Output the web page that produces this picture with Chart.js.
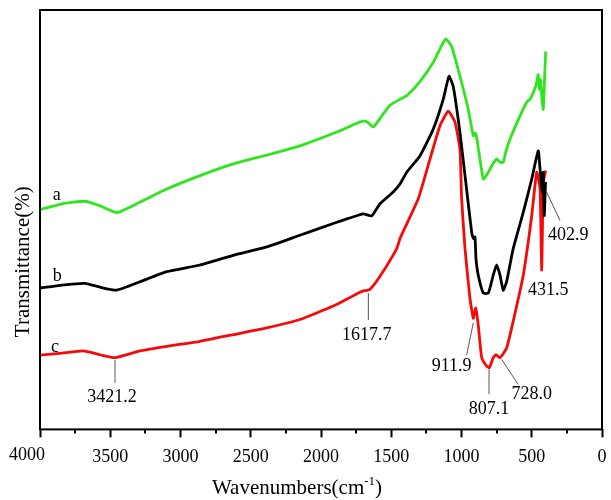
<!DOCTYPE html>
<html>
<head>
<meta charset="utf-8">
<script src="https://cdn.jsdelivr.net/npm/chart.js@4.4.0/dist/chart.umd.min.js"></script>
<style>
  html, body { margin: 0; padding: 0; background: #fff; }
</style>
</head>
<body>
<canvas id="ftir" width="611" height="500"></canvas>
<script>
// Spectrum a (green)
const aWave = [4000, 3843, 3680, 3573, 3454, 3288, 3098, 2861, 2624, 2363, 2150, 1865, 1746, 1699, 1666, 1628,
  1568, 1509, 1438, 1388, 1296, 1203, 1146, 1113, 1070, 1011, 952, 916, 901, 890, 869, 845, 819, 797, 769, 750,
  726, 703, 683, 655, 584, 536, 513, 489, 470, 454, 445, 438, 427, 418, 409, 401];
const aTrans = [52.4, 53.8, 54.4, 53.3, 51.7, 54.2, 57.3, 60.5, 63.3, 65.6, 67.6, 71.2, 73.0, 73.5, 73.2, 72.1,
  74.7, 77.3, 78.7, 79.6, 82.9, 87.4, 91.2, 93.1, 91.3, 84.2, 76.3, 70.0, 70.6, 69.2, 64.5, 59.7, 60.7, 62.1, 63.7, 64.5,
  63.7, 63.7, 66.4, 69.2, 74.7, 78.0, 78.7, 80.3, 82.0, 84.6, 81.1, 83.4, 78.7, 76.3, 83.4, 90.1];

// Spectrum b (black)
const bWave = [4000, 3843, 3680, 3573, 3454, 3288, 3098, 2861, 2624, 2387, 2150, 1913, 1699, 1639, 1580, 1486,
  1438, 1390, 1296, 1201, 1130, 1089, 1059, 1011, 975, 928, 915, 904, 897, 881, 845, 809, 774, 750, 726, 703,
  679, 632, 560, 500, 454, 441, 425, 418, 411, 402];
const bTrans = [33.7, 34.4, 34.8, 33.9, 33.2, 35.2, 37.6, 39.2, 41.5, 43.5, 46.3, 49.1, 51.4, 50.9, 53.8, 56.6,
  58.5, 61.3, 65.2, 71.6, 78.7, 84.2, 81.8, 70.8, 60.5, 47.1, 45.5, 45.9, 40.8, 36.8, 32.5, 32.5, 36.8, 39.2, 36.8, 33.2,
  35.2, 43.1, 51.8, 59.7, 66.4, 62.1, 56.6, 61.3, 51.0, 59.0];

// Spectrum c (red)
const cWave = [4000, 3843, 3692, 3573, 3466, 3288, 3098, 2861, 2624, 2387, 2150, 1913, 1711, 1652, 1580, 1461,
  1438, 1308, 1224, 1153, 1094, 1046, 1011, 999, 975, 940, 916, 899, 881, 856, 821, 802, 774, 755, 726, 679,
  632, 560, 500, 465, 441, 429, 418, 401];
const cTrans = [17.7, 18.2, 18.7, 17.8, 17.1, 18.7, 19.8, 21.0, 22.6, 24.2, 26.2, 29.4, 32.9, 33.4, 36.5, 43.1,
  45.5, 55.0, 64.5, 72.4, 75.9, 73.2, 66.8, 55.0, 43.1, 31.3, 26.5, 28.9, 25.0, 17.1, 15.1, 14.7, 17.1, 17.8, 17.1, 19.4,
  25.8, 36.8, 51.0, 61.3, 57.4, 38.0, 58.9, 61.7];

const curveNames = ['a', 'b', 'c'];
const minorTicks = [250, 750, 1250, 1750, 2250, 2750, 3250, 3750];

// peak annotations: label, label anchor (wavenumber, T), leader line from/to (wavenumber, T)
const peakNotes = [
  { text: '3421.2', at: [3488, 7.6], line: [[3466, 16.6], [3466, 11.1]] },
  { text: '1617.7', at: [1675, 22.4], line: [[1663, 32.5], [1663, 26.1]] },
  { text: '911.9', at: [1070, 15.1], line: [[916, 25.4], [963, 17.8]] },
  { text: '807.1', at: [804, 4.8], line: [[804, 14.3], [804, 8.4]] },
  { text: '728.0', at: [500, 8.4], line: [[714, 16.7], [596, 10.7]] },
  { text: '431.5', at: [382, 33.2], line: null },
  { text: '402.9', at: [240, 46.3], line: [[394, 56.6], [299, 49.8]] }
];
const nameSpots = [[3881, 55.8], [3877, 36.6], [3893, 19.6]];

const zip = (xs, ys) => xs.map((x, i) => ({ x: x, y: ys[i] }));
const serif = "'Liberation Serif', 'DejaVu Serif', serif";

const decorPlugin = {
  id: 'decor',
  afterDraw(chart) {
    const ctx = chart.ctx;
    const area = chart.chartArea;
    const xs = chart.scales.x;
    const ys = chart.scales.y;
    const px = w => xs.getPixelForValue(w);
    const py = t => ys.getPixelForValue(t);
    ctx.save();

    // frame
    ctx.strokeStyle = '#000';
    ctx.lineWidth = 2;
    ctx.strokeRect(area.left, area.top, area.right - area.left, area.bottom - area.top);

    // minor ticks
    minorTicks.forEach(v => {
      const x = Math.round(px(v));
      ctx.beginPath();
      ctx.moveTo(x, area.bottom);
      ctx.lineTo(x, area.bottom + 4);
      ctx.stroke();
    });

    // the first tick label sits left of its tick in the original
    ctx.fillStyle = '#000';
    ctx.font = '18px ' + serif;
    ctx.textAlign = 'center';
    ctx.textBaseline = 'middle';
    ctx.fillText('4000', px(4000) - 13, area.bottom + 26);

    // curve names
    curveNames.forEach((n, i) => {
      ctx.fillText(n, px(nameSpots[i][0]), py(nameSpots[i][1]));
    });

    // peak notes
    ctx.strokeStyle = '#555';
    ctx.lineWidth = 1;
    peakNotes.forEach(p => {
      if (p.line) {
        ctx.beginPath();
        ctx.moveTo(px(p.line[0][0]), py(p.line[0][1]));
        ctx.lineTo(px(p.line[1][0]), py(p.line[1][1]));
        ctx.stroke();
      }
      ctx.fillText(p.text, px(p.at[0]), py(p.at[1]));
    });

    // x title with superscript
    const main = 'Wavenumbers(cm';
    const tail = ')';
    ctx.font = '13px ' + serif;
    const supW = ctx.measureText('-1').width;
    ctx.font = '21px ' + serif;
    const mainW = ctx.measureText(main).width;
    const tailW = ctx.measureText(tail).width;
    const total = mainW + supW + tailW;
    const x0 = (area.left + area.right) / 2 - total / 2 - 24;
    ctx.textAlign = 'left';
    ctx.textBaseline = 'alphabetic';
    ctx.fillText(main, x0, 494);
    ctx.font = '13px ' + serif;
    ctx.fillText('-1', x0 + mainW, 485);
    ctx.font = '21px ' + serif;
    ctx.fillText(tail, x0 + mainW + supW, 494);

    // y title
    ctx.translate(23, (area.top + area.bottom) / 2 + 42);
    ctx.rotate(-Math.PI / 2);
    ctx.textAlign = 'center';
    ctx.textBaseline = 'middle';
    ctx.fillText('Transmittance(%)', 0, 0);
    ctx.restore();
  }
};

new Chart(document.getElementById('ftir'), {
  type: 'line',
  data: {
    datasets: [
      { label: 'a', data: zip(aWave, aTrans), borderColor: '#2fe61c', borderWidth: 2.8 },
      { label: 'b', data: zip(bWave, bTrans), borderColor: '#000000', borderWidth: 2.8 },
      { label: 'c', data: zip(cWave, cTrans), borderColor: '#f50a0a', borderWidth: 2.8 }
    ]
  },
  options: {
    responsive: false,
    animation: false,
    devicePixelRatio: 1,
    layout: { padding: { left: 40, right: 9, top: 10, bottom: 23 } },
    elements: { point: { radius: 0 }, line: { tension: 0.15 } },
    plugins: { legend: { display: false }, tooltip: { enabled: false } },
    scales: {
      x: {
        type: 'linear',
        min: 0,
        max: 4000,
        reverse: true,
        border: { display: false },
        grid: { drawOnChartArea: false, drawTicks: true, tickLength: 8, tickWidth: 2, tickColor: '#000' },
        ticks: {
          stepSize: 500,
          padding: 9,
          maxRotation: 0,
          color: '#000',
          font: { family: serif, size: 18 },
          callback: v => (v === 4000 ? '' : String(v))
        },
        afterFit(scale) {
          // let the frame reach the padding edge; the "0" label may overhang
          scale.paddingLeft = 0;
          scale.paddingRight = 0;
        }
      },
      y: {
        display: false,
        min: 0,
        max: 100
      }
    }
  },
  plugins: [decorPlugin]
});
</script>
</body>
</html>
